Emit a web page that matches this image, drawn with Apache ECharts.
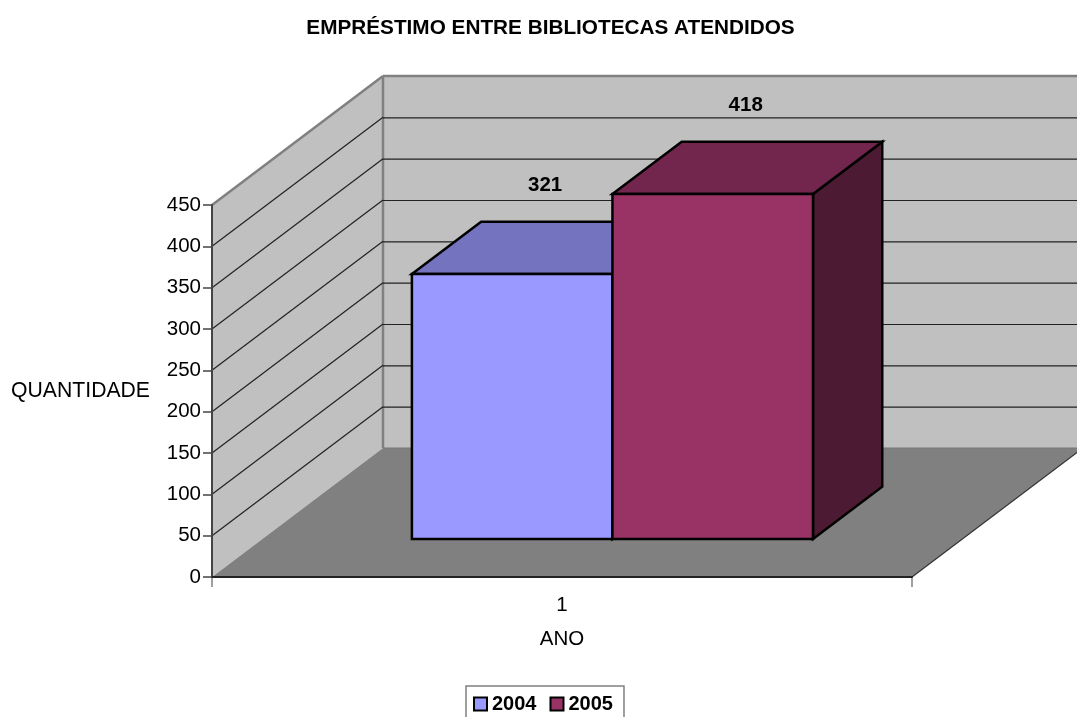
<!DOCTYPE html>
<html><head><meta charset="utf-8">
<style>html,body{margin:0;padding:0;background:#fff}#c{width:1077px;height:717px}</style>
<script src="https://cdn.jsdelivr.net/npm/echarts@6/dist/echarts.min.js"></script>
</head><body><div id="c"></div>
<script>
const categories = ['1'];
const years = ['2004', '2005'];
const values2004 = [321];
const values2005 = [418];
const yTicks = [50, 100, 150, 200, 250, 300, 350, 400, 450];
const FONT = '"Liberation Sans", Arial, sans-serif';
const DX = 171, DY = -129;            // full depth of the 3D box, px
const NEAR = 0.295, FAR = 0.70;       // bar front/back depth as share of the box
const colors = {
  '2004': { front: '#9999ff', top: '#7373bf', side: '#4d4d80' },
  '2005': { front: '#993366', top: '#73264d', side: '#4d1a33' }
};
const chart = echarts.init(document.getElementById('c'));
const yMax = 450;

function wallsItem(params, api) {
  const a = api.coord([0, 0]), t = api.coord([0, yMax]);
  const size = api.size([1, 0])[0];
  const L = a[0] - size / 2, R = a[0] + size / 2, B = a[1], T = t[1];
  const poly = (pts, fill, stroke, w) => ({ type: 'polygon', shape: { points: pts },
    style: { fill, stroke: stroke || null, lineWidth: w || 0 } });
  const line = (x1, y1, x2, y2, stroke, w) => ({ type: 'line', shape: { x1, y1, x2, y2 },
    style: { stroke, lineWidth: w } });
  return { type: 'group', children: [
    poly([[L + DX, T + DY], [R + DX, T + DY], [R + DX, B + DY], [L + DX, B + DY]], '#c0c0c0'),
    poly([[L, T], [L + DX, T + DY], [L + DX, B + DY], [L, B]], '#c0c0c0'),
    poly([[L, B], [R, B], [R + DX, B + DY], [L + DX, B + DY]], '#808080'),
    line(L, T, L + DX, T + DY, '#808080', 2.5),
    line(L + DX, T + DY, R + DX, T + DY, '#808080', 2.5),
    line(L + DX, T + DY, L + DX, B + DY, '#808080', 2.5),
    line(L + DX, B + DY, R + DX, B + DY, '#777777', 1),
    line(R, B, R + DX, B + DY, '#333333', 1.2),
    line(L, B, L, B + 10, '#808080', 1.5),
    line(R, B, R, B + 10, '#808080', 1.5)
  ] };
}
function gridItem(params, api) {
  const a = api.coord([0, api.value(0)]);
  const size = api.size([1, 0])[0];
  const L = a[0] - size / 2, R = a[0] + size / 2, y = a[1];
  const st = { stroke: '#222222', lineWidth: 1.2 };
  if (api.value(0) === yMax) return { type: 'group', children: [] };
  return { type: 'group', children: [
    { type: 'line', shape: { x1: L, y1: y, x2: L + DX, y2: y + DY }, style: st },
    { type: 'line', shape: { x1: L + DX, y1: y + DY + 0.5, x2: R + DX, y2: y + DY + 0.5 }, style: st }
  ] };
}
function barItem(year, side) {
  return function (params, api) {
    const c = api.coord([api.value(0), 0]), t = api.coord([api.value(0), api.value(1)]);
    const size = api.size([1, 0])[0];
    const w = size * 0.2865;
    const x0 = c[0] + (side === 0 ? -w : 0), x1 = x0 + w;
    const nx = DX * NEAR, ny = DY * NEAR, fx = DX * FAR, fy = DY * FAR;
    const bx0 = x0 + nx, bx1 = x1 + nx, by = c[1] + ny, ty = t[1] + ny + 0.5;
    const ox = fx - nx, oy = fy - ny;
    const col = colors[year];
    const st = f => ({ fill: f, stroke: '#000', lineWidth: 2.5, lineJoin: 'miter' });
    return { type: 'group', children: [
      { type: 'polygon', shape: { points: [[bx1, ty], [bx1 + ox, ty + oy], [bx1 + ox, by + oy], [bx1, by]] }, style: st(col.side) },
      { type: 'polygon', shape: { points: [[bx0, ty], [bx0 + ox, ty + oy], [bx1 + ox, ty + oy], [bx1, ty]] }, style: st(col.top) },
      { type: 'rect', shape: { x: bx0, y: ty, width: w, height: by - ty }, style: st(col.front) },
      { type: 'text', style: { x: (bx0 + bx1) / 2 + 33, y: ty + oy - 36, text: String(api.value(1)),
        font: 'bold 20.5px ' + FONT, fill: '#000', align: 'center', verticalAlign: 'middle' } }
    ] };
  };
}
const axisText = { fontFamily: FONT, fontSize: 20.5, color: '#000' };
chart.setOption({
  animation: false,
  backgroundColor: '#fff',
  title: { text: 'EMPRÉSTIMO ENTRE BIBLIOTECAS ATENDIDOS', left: 545.5, top: 13, textAlign: 'center',
    textStyle: { fontFamily: FONT, fontSize: 20.75, fontWeight: 'bold', color: '#000' } },
  grid: { left: 212, width: 700, top: 205, height: 372, containLabel: false, outerBoundsMode: 'none' },
  legend: { data: years.map(n => ({ name: n, icon: 'rect' })), left: 466, top: 686,
    itemWidth: 13, itemHeight: 13, itemGap: 13, padding: [8, 11, 30, 7], borderColor: '#808080', borderWidth: 1.5,
    textStyle: { fontFamily: FONT, fontSize: 20, fontWeight: 'bold', color: '#000' },
    selectedMode: false },
  xAxis: { type: 'category', data: categories, name: 'ANO', nameLocation: 'middle', nameGap: 52, z: 10,
    nameTextStyle: axisText,
    axisLine: { lineStyle: { color: '#222', width: 2 } },
    axisTick: { show: false },
    axisLabel: Object.assign({ margin: 18 }, axisText), splitLine: { show: false } },
  yAxis: { type: 'value', min: 0, max: yMax, interval: 50, name: 'QUANTIDADE', nameLocation: 'middle', z: 10,
    nameRotate: 0, nameGap: 62, nameTextStyle: Object.assign({}, axisText, { fontSize: 21.2 }),
    axisLine: { show: true, lineStyle: { color: '#444', width: 2 } },
    axisTick: { show: true, length: 9, lineStyle: { color: '#444', width: 1.5 } },
    axisLabel: Object.assign({ margin: 11, padding: [4, 0, 0, 0] }, axisText), splitLine: { show: false } },
  series: [
    { type: 'custom', silent: true, z: 1, data: [[0]], encode: { x: 0 }, renderItem: wallsItem, clip: false, tooltip: { show: false } },
    { type: 'custom', silent: true, z: 2, data: yTicks.map(v => [v]), encode: { y: 0 }, renderItem: gridItem, clip: false },
    { type: 'custom', name: years[0], z: 3, data: categories.map((c, i) => [i, values2004[i]]), encode: { x: 0, y: 1 },
      renderItem: barItem('2004', 0), clip: false, itemStyle: { color: colors['2004'].front, borderColor: '#000', borderWidth: 2 } },
    { type: 'custom', name: years[1], z: 4, data: categories.map((c, i) => [i, values2005[i]]), encode: { x: 0, y: 1 },
      renderItem: barItem('2005', 1), clip: false, itemStyle: { color: colors['2005'].front, borderColor: '#000', borderWidth: 2 } }
  ]
});
</script></body></html>
